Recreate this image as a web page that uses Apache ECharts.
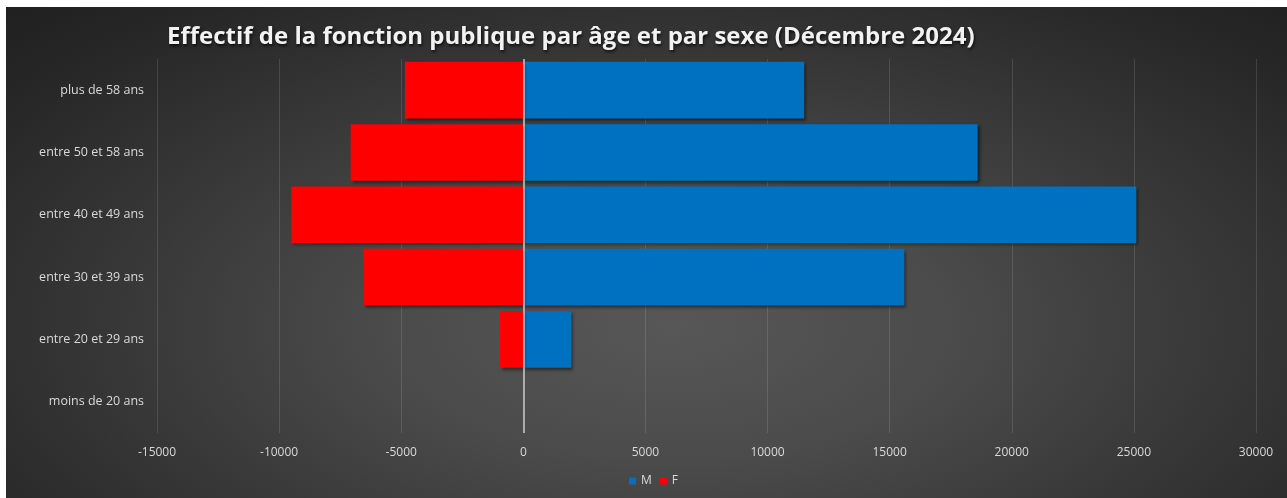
<!DOCTYPE html>
<html>
<head>
<meta charset="utf-8">
<script src="https://cdn.jsdelivr.net/npm/echarts@6/dist/echarts.min.js"></script>
<style>
html, body { margin: 0; padding: 0; background: #ffffff; width: 1287px; height: 498px; overflow: hidden; }
#chart {
  position: absolute; left: 6px; top: 7px; width: 1281px; height: 491px;
  background: radial-gradient(ellipse farthest-corner at 52% 65%, #575757 0%, #4b4b4b 30%, #383838 58%, #272727 85%, #202020 100%);
}
</style>
</head>
<body>
<div id="chart"></div>
<script>
const titleText = 'Effectif de la fonction publique par âge et par sexe (Décembre 2024)';
const categories = ['moins de 20 ans', 'entre 20 et 29 ans', 'entre 30 et 39 ans', 'entre 40 et 49 ans', 'entre 50 et 58 ans', 'plus de 58 ans'];
const seriesNames = ['M', 'F'];
const valuesM = [0, 1970, 15600, 25100, 18600, 11500];
const valuesF = [0, -970, -6550, -9500, -7070, -4850];
const xMin = -15000, xMax = 30000, xStep = 5000;

const chart = echarts.init(document.getElementById('chart'), null, { renderer: 'canvas' });
const labelFont = '"Open Sans", sans-serif';
const barShadow = { shadowBlur: 3, shadowOffsetX: 2, shadowOffsetY: 2, shadowColor: 'rgba(0,0,0,0.5)' };

chart.setOption({
  backgroundColor: 'transparent',
  animation: false,
  title: {
    text: titleText,
    left: 156, top: 13,
    textStyle: {
      color: '#f2f2f2', fontSize: 24, fontWeight: 'bold', fontFamily: labelFont,
      textShadowColor: 'rgba(0,0,0,0.7)', textShadowBlur: 3, textShadowOffsetX: 1, textShadowOffsetY: 2
    }
  },
  legend: {
    data: seriesNames,
    top: 463, left: 618,
    icon: 'rect', itemWidth: 7, itemHeight: 7, itemGap: 8,
    textStyle: { color: '#d9d9d9', fontSize: 12, fontFamily: labelFont }
  },
  grid: { left: 151, right: 31, top: 52, bottom: 65, containLabel: false, outerBoundsMode: 'none' },
  xAxis: {
    type: 'value', min: xMin, max: xMax, interval: xStep,
    axisLine: { show: false }, axisTick: { show: false },
    splitLine: { show: true, lineStyle: { color: 'rgba(255,255,255,0.12)', width: 1 } },
    axisLabel: { color: '#d9d9d9', fontSize: 12, fontFamily: labelFont, margin: 14, formatter: v => String(v) }
  },
  yAxis: {
    type: 'category', data: categories,
    axisLine: { show: false, onZero: false },
    axisTick: { show: false },
    axisLabel: { color: '#d9d9d9', fontSize: 12.5, fontFamily: labelFont, margin: 13 }
  },
  series: [
    { name: 'M', type: 'bar', stack: 'total', data: valuesM, barCategoryGap: '9%',
      itemStyle: Object.assign({ color: '#0070C0' }, barShadow),
      markLine: {
        silent: true, symbol: 'none', z: 20, label: { show: false },
        lineStyle: { color: '#c8c8c8', width: 1.5, type: 'solid' },
        data: [{ xAxis: 0 }]
      } },
    { name: 'F', type: 'bar', stack: 'total', data: valuesF, barCategoryGap: '9%',
      itemStyle: Object.assign({ color: '#FF0000' }, barShadow) }
  ]
});
</script>
</body>
</html>
